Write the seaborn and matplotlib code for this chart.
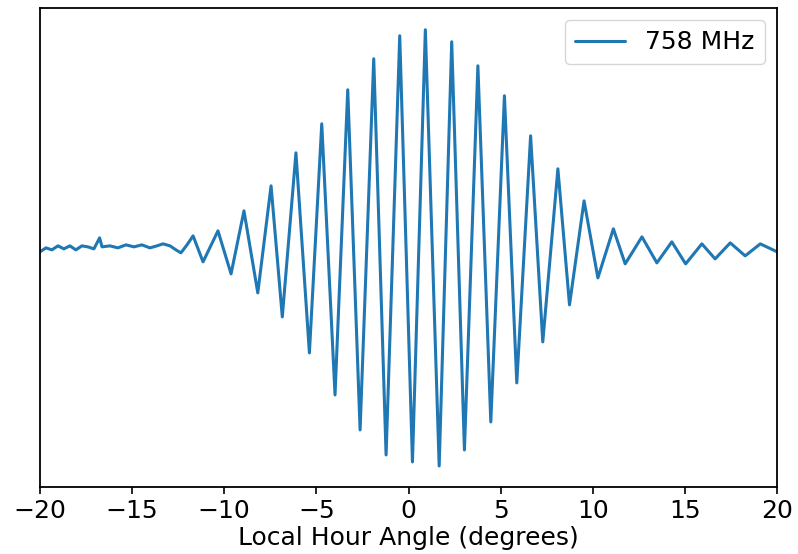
import matplotlib
matplotlib.use("Agg")
import matplotlib.pyplot as plt
import seaborn as sns
import pandas as pd

# Fringe trace: hour angle (deg) and relative power
hour_angle = [
    -20.0, -19.67, -19.35, -19.02, -18.70, -18.37, -18.05, -17.72, -17.40, -17.07,
    -16.76, -16.63, -16.20, -15.77, -15.33, -14.90, -14.47, -14.03, -13.65, -13.32,
    -12.94, -12.62, -12.35, -12.02, -11.69, -11.15, -10.34, -9.63, -8.93, -8.18,
    -7.46, -6.85, -6.11, -5.38, -4.71, -3.99, -3.30, -2.63, -1.89, -1.22,
    -0.48, 0.21, 0.91, 1.66, 2.34, 3.03, 3.76, 4.46, 5.20, 5.87,
    6.62, 7.28, 8.10, 8.73, 9.52, 10.27, 11.11, 11.75, 12.66, 13.47,
    14.28, 15.03, 15.91, 16.63, 17.45, 18.26, 19.08, 20.0,
]
power = [
    -0.04, 0.00, -0.02, 0.02, -0.01, 0.02, -0.02, 0.02, 0.01, -0.01,
    0.10, 0.01, 0.02, 0.00, 0.03, 0.01, 0.03, 0.00, 0.02, 0.04,
    0.02, -0.02, -0.05, 0.03, 0.12, -0.14, 0.17, -0.26, 0.37, -0.45,
    0.62, -0.69, 0.95, -1.05, 1.24, -1.47, 1.58, -1.82, 1.89, -2.07,
    2.12, -2.14, 2.18, -2.18, 2.06, -2.02, 1.82, -1.74, 1.52, -1.35,
    1.12, -0.94, 0.79, -0.57, 0.47, -0.30, 0.19, -0.16, 0.11, -0.15,
    0.06, -0.16, 0.04, -0.11, 0.05, -0.08, 0.04, -0.04,
]
freq_label = "758 MHz"

df = pd.DataFrame({"ha": hour_angle, "p": power})

sns.set_style("ticks")
plt.rcParams["font.family"] = ["DejaVu Sans"]
plt.rcParams["text.color"] = "black"
plt.rcParams["axes.labelcolor"] = "black"
plt.rcParams["xtick.color"] = "black"

fig = plt.figure(figsize=(7.98, 5.54), dpi=100)
ax = fig.add_axes([0.050, 0.121, 0.924, 0.865])

sns.lineplot(data=df, x="ha", y="p", sort=False, estimator=None,
             color="#1f77b4", linewidth=2.2, label=freq_label, ax=ax)

ax.set_xlim(-20, 20)
ax.set_ylim(-2.39, 2.40)
ax.set_xticks([-20, -15, -10, -5, 0, 5, 10, 15, 20])
ax.set_yticks([])
ax.set_ylabel("")
ax.set_xlabel("Local Hour Angle (degrees)", fontsize=18, labelpad=2, color="black")
ax.tick_params(axis="x", labelsize=18, direction="out", length=5, width=1.2,
               color="black", labelcolor="black")
for s in ax.spines.values():
    s.set_visible(True)
    s.set_color("black")
    s.set_linewidth(1.3)

leg = ax.legend(loc="upper right", fontsize=18, frameon=True, fancybox=True,
                edgecolor="#cccccc", handlelength=2.0)
for t in leg.get_texts():
    t.set_color("black")

fig.savefig("out.png", dpi=100)
